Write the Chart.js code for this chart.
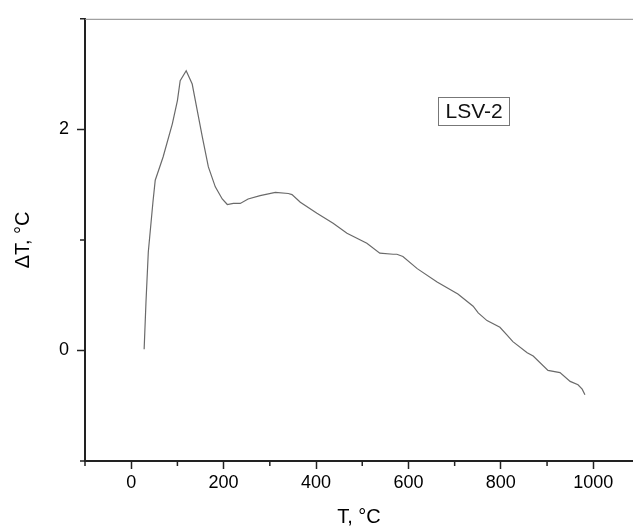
<!DOCTYPE html>
<html>
<head>
<meta charset="utf-8">
<title>LSV-2 DTA</title>
<script src="https://cdn.jsdelivr.net/npm/chart.js@4/dist/chart.umd.min.js"></script>
<style>
    body { margin: 0; background: #fff; }
    #wrap { width: 633px; height: 530px; }
</style>
</head>
<body>
<div id="wrap"><canvas id="dtaChart" width="633" height="530"></canvas></div>
<script>
// ===============================
// Data
// ===============================
const temps = [28, 32, 37, 47, 52, 69, 89, 100, 106, 119, 132, 143, 154, 167, 182, 197, 208,
    221, 236, 253, 279, 312, 340, 348, 366, 402, 437, 467, 510, 538, 567, 575, 588, 619, 662,
    707, 740, 751, 770, 798, 813, 826, 857, 870, 902, 928, 950, 967, 976, 982];
const deltaT = [0.01, 0.44, 0.89, 1.34, 1.54, 1.75, 2.05, 2.26, 2.44, 2.53, 2.41, 2.17, 1.93,
    1.66, 1.48, 1.37, 1.32, 1.33, 1.33, 1.37, 1.40, 1.43, 1.42, 1.41, 1.34, 1.24, 1.15, 1.06,
    0.97, 0.88, 0.87, 0.87, 0.85, 0.74, 0.62, 0.51, 0.40, 0.34, 0.27, 0.21, 0.14, 0.08, -0.02,
    -0.05, -0.18, -0.20, -0.28, -0.31, -0.35, -0.40];

const xMajorTicks = [0, 200, 400, 600, 800, 1000];
const xMinorTicks = [-100, 100, 300, 500, 700, 900];
const yMajorTicks = [0, 2];
const yMinorTicks = [-1, 1, 3];

const seriesName = 'LSV-2';
const axisColor = '#222';
const fontFamily = '"Liberation Sans", Arial, sans-serif';

// ===============================
// Plugins: minor ticks, top frame, label box
// ===============================
const frameAndMinor = {
    id: 'frameAndMinor',
    afterDraw(chart) {
        const ctx = chart.ctx;
        const area = chart.chartArea;
        const xs = chart.scales.x;
        const ys = chart.scales.y;
        ctx.save();
        // top frame line
        ctx.strokeStyle = '#888';
        ctx.lineWidth = 1;
        ctx.beginPath();
        ctx.moveTo(area.left, area.top + 0.5);
        ctx.lineTo(area.right, area.top + 0.5);
        ctx.stroke();

        // minor ticks
        ctx.strokeStyle = axisColor;
        ctx.lineWidth = 1.5;
        ctx.beginPath();
        xMinorTicks.forEach(v => {
            const px = xs.getPixelForValue(v);
            ctx.moveTo(px, area.bottom);
            ctx.lineTo(px, area.bottom + 5);
        });
        yMinorTicks.forEach(v => {
            const py = ys.getPixelForValue(v);
            ctx.moveTo(area.left, py);
            ctx.lineTo(area.left - 5, py);
        });
        ctx.stroke();

        // label box
        const bx = area.left + area.width * 0.71;
        const by = area.top + area.height * 0.208;
        ctx.font = '21px ' + fontFamily;
        ctx.textAlign = 'center';
        ctx.textBaseline = 'middle';
        const w = ctx.measureText(seriesName).width + 14;
        const h = 28;
        ctx.strokeStyle = '#777';
        ctx.lineWidth = 1;
        ctx.strokeRect(Math.round(bx - w / 2) + 0.5, Math.round(by - h / 2) + 0.5, Math.round(w), h);
        ctx.fillStyle = '#111';
        ctx.fillText(seriesName, bx, by + 1);
        ctx.restore();
    }
};

// ===============================
// Chart
// ===============================
function initChart() {
    const ctx = document.getElementById('dtaChart').getContext('2d');
    new Chart(ctx, {
        type: 'scatter',
        data: {
            datasets: [{
                label: seriesName,
                data: temps.map((t, i) => ({ x: t, y: deltaT[i] })),
                showLine: true,
                borderColor: '#6a6a6a',
                borderWidth: 1.2,
                pointRadius: 0,
                tension: 0
            }]
        },
        options: {
            responsive: false,
            animation: false,
            layout: { padding: { top: 15, left: 0, right: 0, bottom: 0 } },
            plugins: {
                legend: { display: false },
                tooltip: { enabled: false }
            },
            scales: {
                x: {
                    type: 'linear',
                    min: -100,
                    max: 1086,
                    afterBuildTicks: scale => { scale.ticks = xMajorTicks.map(v => ({ value: v })); },
                    afterFit: scale => { scale.height = 69; },
                    grid: { drawOnChartArea: false, tickLength: 8, tickColor: axisColor, tickWidth: 1.5 },
                    border: { color: axisColor, width: 2 },
                    ticks: {
                        color: '#000', font: { family: fontFamily, size: 18 }, padding: 3, maxRotation: 0,
                        callback: v => String(v)
                    },
                    title: { display: true, text: 'T, °C', color: '#000', font: { family: fontFamily, size: 20 }, padding: { top: 0, bottom: 1 } }
                },
                y: {
                    min: -1,
                    max: 3,
                    afterBuildTicks: scale => { scale.ticks = yMajorTicks.map(v => ({ value: v })); },
                    afterFit: scale => { scale.width = 85; },
                    grid: { drawOnChartArea: false, tickLength: 8, tickColor: axisColor, tickWidth: 1.5 },
                    border: { color: axisColor, width: 2 },
                    ticks: { color: '#000', font: { family: fontFamily, size: 18 }, padding: 8, callback: v => String(v) },
                    title: { display: true, text: 'ΔT, °C', color: '#000', font: { family: fontFamily, size: 20 }, padding: { top: 11, bottom: 0 } }
                }
            }
        },
        plugins: [frameAndMinor]
    });
}

document.addEventListener('DOMContentLoaded', () => {
    initChart();
});
</script>
</body>
</html>
